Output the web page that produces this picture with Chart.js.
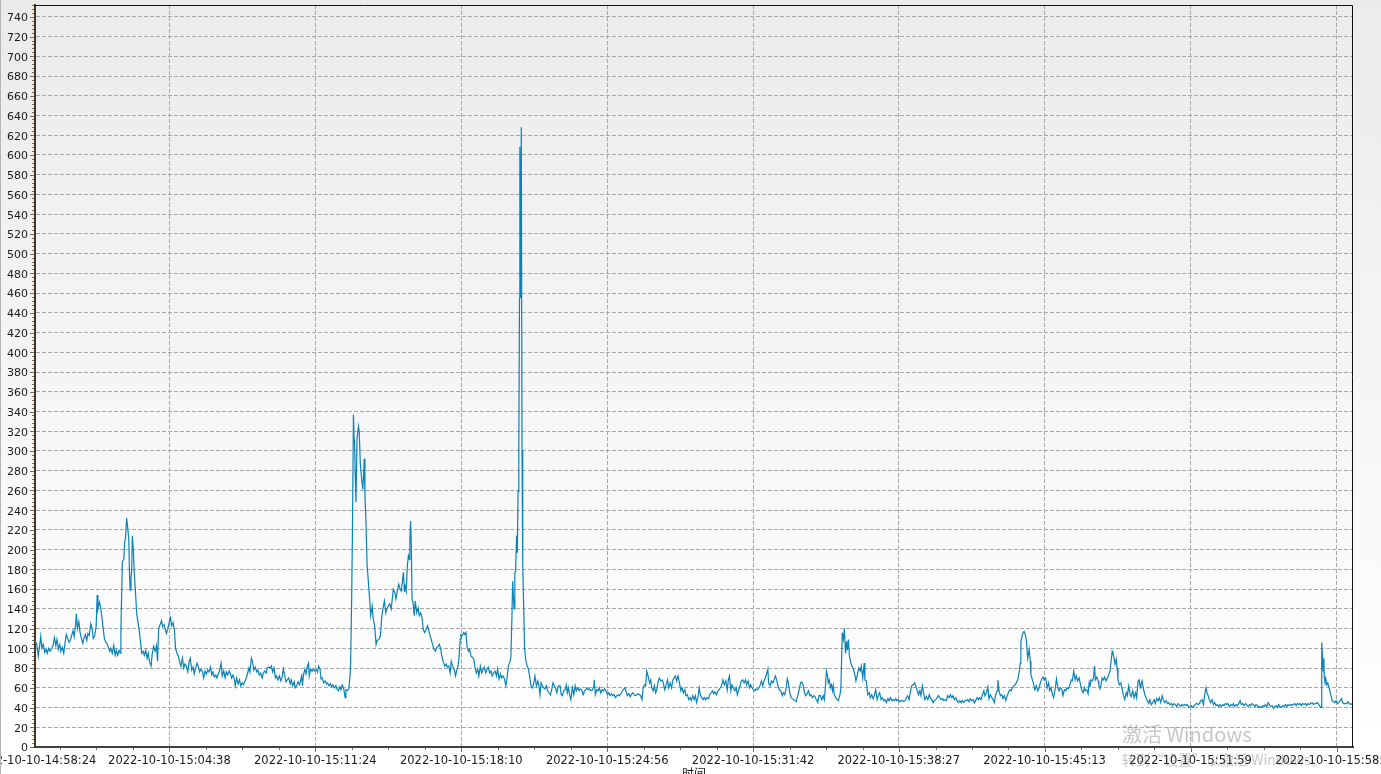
<!DOCTYPE html>
<html><head><meta charset="utf-8">
<script src="https://cdn.jsdelivr.net/npm/chart.js@4.4.0/dist/chart.umd.min.js"></script>
<style>html,body{margin:0;padding:0;background:#fff;overflow:hidden}canvas{display:block}</style>
</head><body>
<canvas id="c" width="1381" height="774"></canvas>
<script>
// ---- data (seconds after 2022-10-10 14:58:24) ----
const xTickSeconds = [0,374,780,1186,1592,1998,2403,2809,3215,3621];
const xTickLabels = ['2022-10-10-14:58:24','2022-10-10-15:04:38','2022-10-10-15:11:24','2022-10-10-15:18:10','2022-10-10-15:24:56','2022-10-10-15:31:42','2022-10-10-15:38:27','2022-10-10-15:45:13','2022-10-10-15:51:59','2022-10-10-15:58:45'];
const yTickValues = [0,20,40,60,80,100,120,140,160,180,200,220,240,260,280,300,320,340,360,380,400,420,440,460,480,500,520,540,560,580,600,620,640,660,680,700,720,740];
const xAxisTitle = '时间';
const xRange = [0, 3667];
const yRange = [0, 752];

const seg1Seconds = [0,5,9,13,16,19,23,27,31,34,38,42,46,51,54,58,61,65,69,72,76,80,83,87,91,95,98,102,106,109,113,115,118,122,125,129,133,136,140,144,147,151,155,159,162,166,170,173,175,179,182,186,189,193,197,200,204,208,211,215,219,223,226,230,234,237,239,243,247,249,252,255,258,261,263,265,267,269,271,274,276,279,283,287,290,294,297,301,304,308,312,315,319,323,326,330,334,338,341,344,348,352,355,359,363,366,370,374,377,380,384,388,391,395,399,403,406,410,414,417,421,425,429,432,436,440,443,447,451,454,458,462,466,469,473,477,480,484,488,492,495,499,503,506,510,514,518,521,525,529,532,536,540,544,547,551,555,557,561,565,569,572,576,580,583,587,591,595,598,602,606,609,613,617,620,624,628,632,635,639,643,646,650,654,658,661,665,669,672,676,680,684,687,691,695,698,702,706,710,713,717,721,724,728,732,736];
const seg1Values = [108,104,92,103,112,100,104,96,99,95,100,97,99,104,111,103,109,99,104,97,101,95,104,114,110,106,108,113,118,112,124,135,120,127,117,110,105,110,114,108,115,113,125,120,110,113,122,154,140,147,143,132,122,110,106,105,101,97,100,95,103,93,98,93,98,95,117,188,190,205,213,232,222,210,175,159,170,180,214,197,177,160,135,125,118,105,95,97,93,98,90,95,86,82,94,102,97,103,87,120,124,128,122,124,118,115,121,127,131,123,126,118,100,95,92,85,82,90,80,84,82,76,87,90,78,81,74,80,85,82,76,79,76,70,77,74,78,76,81,73,76,71,73,70,74,78,85,72,77,70,76,73,77,74,70,73,68,62,70,64,68,62,65,63,66,69,74,80,76,90,85,78,81,76,78,73,75,70,75,77,75,80,81,80,82,76,80,70,72,68,72,67,70,79,72,66,68,70,64,68,62,66,60,62,66,63];

const seg2Seconds = [742,744,747,751,754,758,761,763,767,771,774,778,782,786,789,793,796,799,803,807,811,814,818,822,825,829,833,837,840,844,848,851,855,859,863,865,869,873,876,878,881,883,886,888,889,891,893,896,900,902,905,909,912,914,916,918,921,924,927,931,934,938,941,945,949,952,957,961,965,968,972,976,979,983,987,991,994,997,1001,1004,1008,1012,1016,1019,1022,1025,1028,1030,1033,1036,1039,1042,1043,1045,1047,1049,1052,1055,1058,1062,1066,1069,1073,1077,1080,1084,1088,1092,1095,1099,1103,1106,1110,1114,1118,1121,1125,1129,1132,1136,1140,1144,1147,1151,1155,1158,1162,1166,1170,1173,1177,1180,1183,1185,1189,1193,1196,1199,1202,1206,1209,1213,1217,1221,1224,1228,1232,1235,1239,1243,1247,1250,1254,1258,1261,1265,1269,1272,1276,1280,1284,1287,1291,1295,1298,1302,1306,1310,1313,1317,1321,1324,1327,1329,1331,1333,1335,1337,1340,1342,1344,1346,1348,1349,1351,1353,1355,1357,1360,1362,1365,1369,1373,1376,1380,1384,1388,1391,1395,1399,1402,1405,1408,1412,1415,1419,1423,1426,1430,1434,1438,1441,1445,1449,1452,1456,1461];
const seg2Values = [72,62,73,79,74,82,85,72,79,77,79,77,79,76,82,79,69,70,65,67,64,65,62,64,61,63,60,62,59,57,61,58,63,59,50,58,57,59,70,82,150,211,337,309,312,275,248,312,325,320,288,271,261,275,292,255,226,184,170,150,133,143,130,123,104,108,109,113,133,140,148,136,140,143,145,140,150,160,157,150,158,165,160,158,167,177,157,163,158,184,194,190,211,229,204,150,146,133,148,136,141,133,136,131,119,116,119,123,119,113,108,104,99,97,101,102,104,99,92,86,82,84,81,82,75,87,82,79,72,77,82,92,109,114,113,116,114,116,102,97,99,92,91,89,81,75,79,72,82,75,79,81,75,79,81,75,77,72,75,77,72,79,69,74,70,72,69,62,69,82,86,91,133,168,152,140,177,178,214,197,259,298,455,608,455,628,301,185,136,101,89,82,79,72,62,60,65,72,62,67,62,53,65,62,60,59,62,57,55,53,59,65,62,59,55,62,62];

const seg3Seconds = [1464,1467,1471,1475,1478,1481,1484,1488,1491,1495,1499,1503,1506,1510,1514,1517,1521,1525,1529,1532,1536,1540,1543,1547,1551,1555,1556,1559,1563,1567,1570,1574,1578,1581,1585,1589,1593,1596,1600,1604,1607,1611,1615,1619,1622,1626,1630,1633,1637,1641,1644,1648,1652,1656,1659,1663,1667,1670,1674,1678,1682,1685,1689,1692,1696,1699,1702,1705,1708,1710,1713,1716,1720,1723,1727,1731,1734,1737,1741,1745,1748,1752,1756,1760,1763,1767,1771,1774,1778,1782,1785,1789,1793,1797,1800,1804,1808,1811,1815,1819,1823,1826,1830,1834,1837,1841,1845,1848,1851,1855,1859,1862,1866,1870,1874,1877,1881,1885,1888,1892,1896,1900,1903,1907,1911,1914,1918,1922,1926,1929,1932,1936,1939,1943,1947,1951,1954,1958,1962,1965,1969,1973,1977,1980,1984,1988,1991,1995,1999,2003,2006,2010,2014,2017,2021,2025,2028,2032,2036,2039,2041,2045,2049,2053,2056,2060,2064,2067,2071,2075,2079,2082,2086,2090,2093,2096,2100,2104,2107,2111,2115,2118,2122,2126,2130,2133,2137,2141,2144,2148,2152,2156,2159,2163,2167,2170,2174,2178,2181];
const seg3Values = [53,52,57,58,63,55,60,52,48,60,53,62,57,60,57,59,58,53,57,58,60,58,59,57,58,62,68,53,58,57,60,55,58,57,59,56,53,55,52,54,52,53,50,52,53,52,54,56,58,60,57,52,54,51,53,55,53,52,53,54,53,52,48,60,63,62,77,73,68,65,68,60,57,62,55,60,67,70,67,68,65,58,63,68,60,65,60,67,70,72,67,72,65,57,60,55,58,52,53,48,50,47,52,48,52,45,52,60,53,50,48,50,48,50,49,53,55,57,54,56,53,57,58,60,63,68,63,67,58,68,72,57,63,60,57,60,53,58,62,67,68,65,68,63,67,60,63,60,58,57,59,58,60,62,67,62,67,70,75,79,65,62,67,65,68,72,67,62,58,57,52,55,53,60,69,65,55,50,49,48,47,46,52,58,65,66,63,55,52,54,57,52,53,50,52,51,48,45,52];

const seg4Seconds = [2185,2189,2193,2196,2199,2202,2205,2207,2210,2213,2216,2219,2221,2224,2228,2232,2235,2239,2242,2244,2246,2249,2252,2255,2258,2260,2263,2266,2270,2273,2277,2281,2284,2288,2292,2296,2299,2303,2307,2309,2313,2317,2321,2324,2328,2332,2335,2339,2343,2347,2350,2354,2358,2361,2365,2369,2373,2376,2380,2384,2387,2391,2395,2398,2402,2406,2410,2413,2417,2421,2424,2428,2432,2436,2439,2443,2447,2450,2454,2458,2462,2465,2469,2473,2476,2480,2484,2488,2491,2495,2499,2502,2506,2510,2513,2517,2521,2525,2528,2532,2536,2539,2543,2547,2551,2554,2558,2562,2565,2569,2573,2577,2580,2584,2588,2591,2595,2599,2602,2606,2610,2614,2617,2621,2625,2628,2632,2636,2640,2643,2647,2651,2654,2658,2662,2666,2669,2673,2677,2679,2682,2686,2690,2693,2697,2701,2705,2708,2712,2716,2719,2723,2727,2730,2734,2738,2741,2743,2746,2749,2752,2755,2758,2762,2766,2769,2771,2775,2779,2782,2786,2790,2794,2797,2801,2805,2808,2812,2816,2820,2823,2827,2831,2834,2838,2842,2846,2849,2853,2857,2860,2864,2868,2871,2875,2879,2883,2886,2890,2894,2897,2901,2905,2909,2912,2916,2920];
const seg4Values = [52,48,52,48,60,77,72,65,68,60,63,57,62,53,50,48,47,52,58,87,116,109,120,95,107,98,109,92,85,82,79,73,67,73,80,77,82,70,85,68,67,53,55,50,53,49,52,58,48,53,55,48,50,47,48,45,49,47,50,47,48,47,49,47,48,46,47,47,46,47,50,52,48,57,62,63,65,62,58,53,57,52,62,53,48,51,48,53,50,48,45,47,48,50,52,50,48,49,47,48,47,52,50,53,50,52,48,50,47,45,47,45,47,45,47,47,48,46,49,47,48,45,47,50,48,50,48,53,57,52,55,61,49,53,50,48,45,53,57,68,57,52,53,49,52,47,52,55,58,57,60,62,63,65,68,75,85,106,112,116,117,114,109,90,99,87,73,68,63,58,62,57,60,65,69,71,68,70,60,65,57,60,53,50,58,69,60,57,60,58,52,58,57,60,59,62,68,67,77,68,72,67,70,63,58,55,60];

const seg5Seconds = [2922,2926,2930,2933,2935,2938,2941,2945,2948,2950,2954,2958,2960,2963,2966,2969,2973,2976,2980,2984,2987,2991,2994,2997,2999,3002,3005,3008,3011,3013,3017,3021,3024,3028,3032,3036,3039,3043,3047,3050,3054,3058,3062,3065,3069,3072,3075,3077,3080,3084,3088,3091,3095,3099,3102,3106,3110,3114,3117,3121,3125,3128,3132,3136,3139,3143,3147,3151,3154,3158,3162,3165,3169,3173,3177,3180,3184,3188,3191,3195,3199,3203,3206,3210,3214,3217,3221,3225,3228,3232,3236,3240,3243,3247,3251,3254,3258,3261,3264,3267,3271,3275,3279,3282,3286,3290,3293,3297,3301,3305,3308,3312,3316,3319,3323,3327,3331,3334,3338,3342,3345,3349,3353,3356,3360,3364,3368,3371,3375,3379,3382,3386,3390,3394,3397,3401,3405,3408,3412,3416,3420,3423,3427,3431,3434,3438,3442,3446,3449,3453,3457,3460,3464,3468,3472,3475,3479,3483,3486,3490,3494,3497,3501,3505,3509,3512,3516,3520,3523,3527,3531,3535,3538,3542,3546,3549,3553,3557,3561,3564,3568,3572,3575,3578,3580,3582,3584,3586,3587,3589,3591,3594,3597,3600,3602,3605,3609,3612,3616,3620,3624,3627,3631,3635,3638,3642,3646,3650,3653,3657,3661,3664,3667];
const seg5Values = [57,58,54,65,61,68,67,70,82,68,71,67,63,59,63,70,68,71,67,70,73,77,87,97,95,90,84,89,80,68,63,65,60,53,48,55,52,62,53,51,57,50,55,50,67,68,60,63,67,59,53,50,47,44,48,43,45,48,44,49,47,50,45,52,48,45,47,44,45,43,44,42,44,43,41,44,43,41,43,42,43,42,43,40,41,42,40,42,43,44,43,44,47,48,43,52,60,55,52,48,45,48,43,45,42,43,41,43,41,43,42,44,43,44,41,43,42,44,41,43,42,44,47,43,44,42,44,43,41,43,42,44,43,41,43,42,40,41,40,42,41,43,41,45,43,41,42,39,41,42,40,43,41,40,42,41,43,41,43,42,43,42,43,44,42,44,43,44,42,44,43,44,42,44,43,44,45,43,44,44,45,43,41,40,106,92,77,90,70,67,70,63,65,60,58,53,47,46,45,47,44,45,47,49,45,44,44,44,46,44,43,44,44];

const segments = [[seg1Seconds,seg1Values],[seg2Seconds,seg2Values],[seg3Seconds,seg3Values],[seg4Seconds,seg4Values],[seg5Seconds,seg5Values]];
const points = [];
for (const [ts, vs] of segments) {
  const n = Math.min(ts.length, vs.length);
  for (let i = 0; i < n; i++) points.push({x: ts[i], y: vs[i]});
}

// ---- style ----
const LINE_COLOR = '#0b82b6';
const GRID_COLOR = '#a8a8a8';
const TEXT_COLOR = '#1a1a1a';
const FONT = 'DejaVu Sans';

const decor = {
  id: 'decor',
  beforeDraw(chart) {
    const ctx = chart.ctx;
    const g = ctx.createLinearGradient(0, 0, 0, chart.height);
    g.addColorStop(0, '#ebebeb');
    g.addColorStop(0.965, '#ffffff');
    g.addColorStop(1, '#ffffff');
    ctx.save();
    ctx.fillStyle = g;
    ctx.fillRect(0, 0, chart.width, chart.height);
    ctx.restore();
  },
  afterDraw(chart) {
    const {ctx, chartArea: a, scales: {x, y}} = chart;
    ctx.save();
    // top & right border
    ctx.strokeStyle = '#111';
    ctx.lineWidth = 1;
    ctx.beginPath();
    ctx.moveTo(a.left, a.top + 0.5);
    ctx.lineTo(a.right - 0.5, a.top + 0.5);
    ctx.lineTo(a.right - 0.5, a.bottom);
    ctx.stroke();
    // y ticks (major + minor)
    ctx.strokeStyle = '#6e6e6e';
    const yMajor = yTickValues[1] - yTickValues[0];
    const yStep = yMajor / 5;
    for (let v = yRange[0]; v <= yRange[1]; v += yStep) {
      const py = Math.round(y.getPixelForValue(v)) + 0.5;
      const major = Math.abs(v % yMajor) < 1e-6;
      const len = major ? 4 : 2;
      ctx.beginPath(); ctx.moveTo(a.left - 1 - len, py); ctx.lineTo(a.left - 1, py); ctx.stroke();
    }
    // x ticks (major + minor quarters)
    const xStep = (xTickSeconds[2] - xTickSeconds[1]) / 4;
    const drawXT = (t, len) => {
      if (t < xRange[0] || t > xRange[1]) return;
      const px = Math.round(x.getPixelForValue(t)) + 0.5;
      ctx.beginPath(); ctx.moveTo(px, a.bottom + 1); ctx.lineTo(px, a.bottom + 1 + len); ctx.stroke();
    };
    for (let k = -8; k <= 40; k++) {
      const t = xTickSeconds[1] + k * xStep;
      drawXT(t, (k % 4 === 0) ? 4 : 2);
    }
    // window left edge line
    ctx.strokeStyle = '#b4b4b4';
    ctx.beginPath(); ctx.moveTo(0.5, 0); ctx.lineTo(0.5, chart.height); ctx.stroke();
    // axis title
    ctx.fillStyle = TEXT_COLOR;
    ctx.font = '12px "Noto Sans CJK SC"';
    ctx.textAlign = 'center';
    ctx.textBaseline = 'top';
    ctx.fillText(xAxisTitle, (a.left + a.right) / 2, 767);
    // OS watermark overlay
    ctx.fillStyle = 'rgba(120,120,120,0.42)';
    ctx.textAlign = 'left';
    ctx.textBaseline = 'alphabetic';
    ctx.font = '20px "Noto Sans CJK SC"';
    ctx.fillText('激活 Windows', 1122, 742);
    ctx.font = '14px "Noto Sans CJK SC"';
    ctx.fillText('转到“设置”以激活 Windows。', 1122, 765);
    ctx.restore();
  }
};

new Chart(document.getElementById('c'), {
  type: 'line',
  data: { datasets: [{ data: points, borderColor: LINE_COLOR, borderWidth: 1.2, pointRadius: 0, tension: 0, fill: false }] },
  options: {
    responsive: false, animation: false, devicePixelRatio: 1,
    parsing: false,
    layout: { padding: { top: 5, right: 28, left: 0, bottom: 0 } },
    plugins: { legend: { display: false }, tooltip: { enabled: false } },
    scales: {
      x: {
        type: 'linear', min: xRange[0], max: xRange[1],
        afterBuildTicks: s => { s.ticks = xTickSeconds.map(v => ({ value: v })); },
        afterFit: s => { s.height = 27; s.paddingLeft = 0; s.paddingRight = 0; },
        ticks: { autoSkip: false, maxRotation: 0, minRotation: 0, padding: 7, color: TEXT_COLOR,
                 font: { family: FONT, size: 11.5 }, callback: (v, i) => xTickLabels[i] },
        grid: { color: GRID_COLOR, lineWidth: 1, drawTicks: false },
        border: { color: '#404040', width: 2, dash: [4, 2] }
      },
      y: {
        type: 'linear', min: yRange[0], max: yRange[1],
        afterBuildTicks: s => { s.ticks = yTickValues.map(v => ({ value: v })); },
        afterFit: s => { s.width = 35; s.paddingTop = 0; s.paddingBottom = 0; },
        ticks: { padding: 7, labelOffset: 1.5, color: TEXT_COLOR, font: { family: FONT, size: 11 } },
        grid: { color: GRID_COLOR, lineWidth: 1, drawTicks: false },
        border: { color: '#4b3520', width: 2, dash: [4, 2] }
      }
    }
  },
  plugins: [decor]
});
</script>
</body></html>
